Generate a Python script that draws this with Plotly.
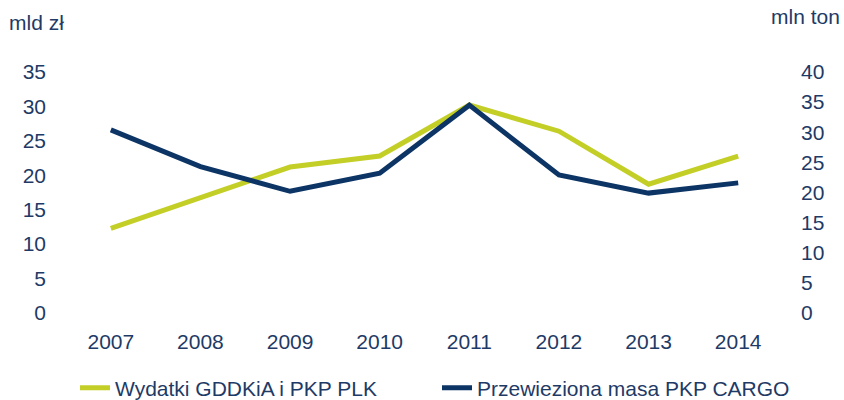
import plotly.graph_objects as go

years = ["2007", "2008", "2009", "2010", "2011", "2012", "2013", "2014"]
wydatki = [12.3, 16.7, 21.2, 22.8, 30.2, 26.4, 18.7, 22.8]
masa = [30.4, 24.3, 20.2, 23.2, 34.5, 22.9, 19.9, 21.6]
names = ["Wydatki GDDKiA i PKP PLK", "Przewieziona masa PKP CARGO"]

green = "#c3cf27"
navy = "#0c3465"
txt = "#1e3a66"
font = "Liberation Sans, Arial, sans-serif"
fs = 21

fig = go.Figure()
fig.add_trace(go.Scatter(x=years, y=wydatki, name=names[0], legend="legend", showlegend=True,
                         mode="lines", line=dict(color=green, width=5)))
fig.add_trace(go.Scatter(x=years, y=masa, name=names[1], legend="legend2", showlegend=True,
                         mode="lines", line=dict(color=navy, width=5), yaxis="y2"))

leg = dict(orientation="h", xref="container", yref="container", xanchor="left",
           y=12 / 400, yanchor="middle", font=dict(size=fs, color=txt), itemwidth=30,
           bgcolor="rgba(0,0,0,0)")

fig.update_layout(
    width=844, height=400,
    showlegend=True,
    margin=dict(l=66, r=61, t=72, b=87, autoexpand=False),
    plot_bgcolor="white", paper_bgcolor="white",
    font=dict(family=font, size=fs, color=txt),
    xaxis=dict(type="category", range=[-0.5, 7.5], showgrid=False, zeroline=False,
               showline=False, ticks="", ticklabelstandoff=14,
               tickfont=dict(size=fs, color=txt)),
    yaxis=dict(range=[0, 35], dtick=5, showgrid=False, zeroline=False, showline=False,
               ticks="", ticklabelstandoff=19, tickfont=dict(size=fs, color=txt)),
    yaxis2=dict(range=[0, 40], dtick=5, overlaying="y", side="right", showgrid=False,
                zeroline=False, showline=False, ticks="", ticklabelstandoff=17,
                tickfont=dict(size=fs, color=txt)),
    legend=dict(leg, x=75 / 844),
    legend2=dict(leg, x=437 / 844),
)
fig.add_annotation(text="mld zł", xref="paper", yref="paper", x=(7 - 66) / 717, y=(313 - 22) / 241,
                   xanchor="left", yanchor="middle", showarrow=False, font=dict(size=fs, color=txt))
fig.add_annotation(text="mln ton", xref="paper", yref="paper", x=(842 - 66) / 717, y=(313 - 17) / 241,
                   xanchor="right", yanchor="middle", showarrow=False, font=dict(size=fs, color=txt))

fig.write_html("out.html")
